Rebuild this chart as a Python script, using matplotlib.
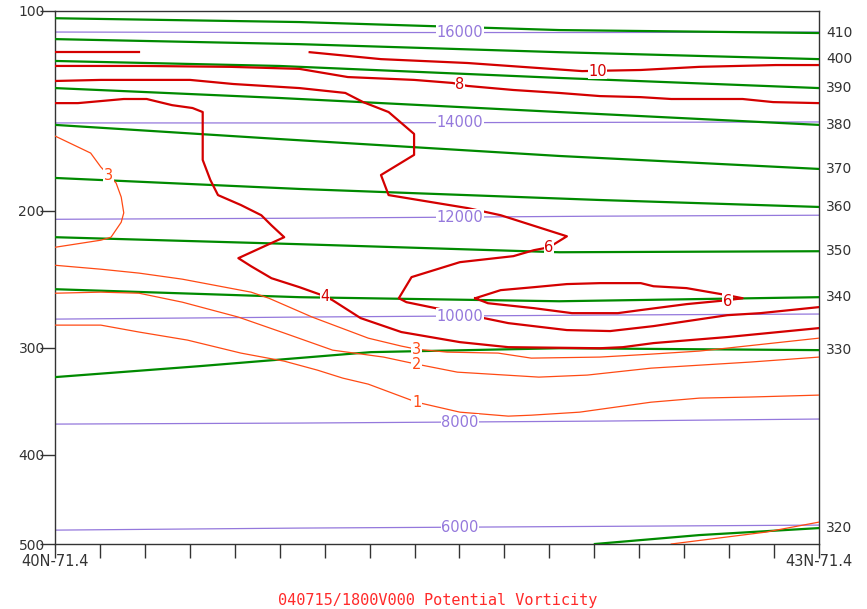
"""
Cross-section 40N-71.4 -> 43N-71.4: potential vorticity (PVU), isentropes (K)
and geopotential height (m) on a p**kappa (stuve) pressure axis.
"""

import numpy as np
import matplotlib.pyplot as plt

KAPPA = 0.2857

# ---- pressure axis / x axis
p_ticks = [100, 200, 300, 400, 500]
x_ticks_n = 18
x_label_left = "40N-71.4"
x_label_right = "43N-71.4"
title = "040715/1800V000 Potential Vorticity"

# ---- isentropes (theta, K): latitude and pressure (hPa) along each line
th410_lat = [40.00, 40.96, 41.98, 43.00]
th410_p = [102.8, 104.3, 107.5, 108.7]
th400_lat = [40.00, 40.96, 41.98, 43.00]
th400_p = [111.2, 113.3, 116.7, 119.7]
th390_lat = [40.00, 40.88, 41.98, 43.00]
th390_p = [120.5, 122.7, 128.1, 132.8]
th380_lat = [40.00, 40.88, 41.98, 43.00]
th380_p = [132.8, 137.5, 144.4, 150.9]
th370_lat = [40.00, 40.88, 41.98, 43.00]
th370_p = [150.9, 158.3, 167.5, 174.8]
th360_lat = [40.00, 40.96, 42.14, 43.00]
th360_p = [180.0, 186.5, 193.2, 197.5]
th350_lat = [40.00, 40.96, 41.98, 43.00]
th350_p = [217.0, 221.7, 227.2, 226.5]
th340_lat = [40.00, 40.96, 41.98, 43.00]
th340_p = [253.7, 259.7, 262.8, 259.7]
th330_lat = [40.00, 40.57, 41.24, 41.98, 43.00]
th330_p = [325.5, 315.8, 303.8, 300.5, 302.1]
th320_lat = [42.12, 42.53, 43.00]
th320_p = [500.0, 489.3, 481.0]

# ---- geopotential height (m)
hgt_lat = [40.00, 40.96, 42.14, 43.00]
hgt16000_p = [108.3, 108.5, 108.5, 108.3]
hgt14000_p = [149.9, 149.9, 149.6, 149.4]
hgt12000_p = [205.3, 204.6, 203.3, 202.7]
hgt10000_p = [276.7, 275.1, 273.5, 272.7]
hgt8000_p = [369.3, 368.3, 366.4, 364.4]
hgt6000_p = [483.4, 481.0, 479.0, 477.5]
hgt_label_lat = 41.59

# ---- potential vorticity (PVU)
pv10a_lat = [40.00, 40.33]
pv10a_p = [116.7, 116.7]
pv10_lat = [41.00, 41.28, 41.62, 42.07, 42.30, 42.53, 42.83, 43.00]
pv10_p = [116.7, 119.7, 121.4, 125.0, 124.5, 123.1, 122.3, 122.3]

pv8_lat = [40.00, 40.35, 40.69, 40.96, 41.15, 41.41, 41.56, 41.62, 41.80,
           41.98, 42.14, 42.30, 42.42, 42.70, 42.82, 43.00]
pv8_p = [122.7, 122.7, 123.1, 124.0, 127.7, 129.0, 130.4, 131.8, 133.7,
         135.1, 136.6, 137.1, 138.0, 138.0, 139.5, 140.0]

pv6_lat = [40.00, 40.18, 40.53, 40.70, 40.96, 41.14, 41.21, 41.31, 41.41,
           41.41, 41.28, 41.31, 41.62, 41.75, 42.01, 41.94, 41.88, 41.80,
           41.59, 41.40, 41.35, 41.38, 41.59, 41.78, 42.01, 42.18, 42.35,
           42.64, 42.77, 43.00]
pv6_p = [129.5, 129.0, 129.0, 130.9, 132.8, 135.1, 139.5, 144.4, 155.6,
         166.9, 178.3, 190.2, 198.2, 202.7, 216.4, 223.8, 225.8, 229.9,
         234.1, 244.8, 260.5, 263.5, 272.0, 279.9, 285.5, 286.3, 282.3,
         273.6, 272.0, 267.3]

pv6b_lat = [41.65, 41.75, 41.88, 42.01, 42.14, 42.30, 42.35, 42.48, 42.64,
            42.70, 42.64, 42.48, 42.30, 42.21, 42.03, 41.88, 41.70, 41.65]
pv6b_p = [260.5, 254.4, 252.2, 249.9, 249.2, 249.2, 251.5, 252.9, 258.2,
          260.5, 262.0, 265.0, 269.6, 272.0, 272.0, 268.1, 264.3, 260.5]

pv4_lat = [40.00, 40.09, 40.18, 40.27, 40.36, 40.46, 40.54, 40.58, 40.58,
           40.58, 40.61, 40.64, 40.73, 40.81, 40.85, 40.90, 40.72, 40.77,
           40.85, 40.96, 41.06, 41.09, 41.20, 41.36, 41.59, 41.78, 42.14,
           42.23, 42.35, 42.64, 43.00]
pv4_p = [140.0, 140.0, 139.0, 138.0, 138.0, 141.0, 142.4, 144.4, 155.1,
         169.7, 181.2, 190.2, 196.3, 202.7, 209.2, 217.0, 231.3, 237.0,
         245.6, 252.2, 259.0, 262.0, 275.9, 287.1, 295.4, 299.6, 300.5,
         299.6, 296.2, 291.2, 283.9]

pv3a_lat = [40.00, 40.14, 40.18, 40.21, 40.24, 40.26, 40.27, 40.26, 40.22,
            40.18, 40.00]
pv3a_p = [156.7, 165.9, 173.7, 178.3, 183.0, 191.4, 201.2, 207.2, 217.0,
          219.0, 223.8]

pv3_lat = [40.00, 40.18, 40.33, 40.50, 40.77, 40.84, 41.01, 41.23, 41.36,
           41.42, 41.54, 41.74, 41.87, 42.14, 42.34, 42.53, 42.60, 43.00]
pv3_p = [236.3, 239.1, 241.9, 246.3, 255.9, 260.5, 275.1, 292.1, 298.7,
         301.3, 303.8, 304.6, 308.9, 308.0, 305.5, 302.9, 301.3, 292.1]

pv2_lat = [40.00, 40.18, 40.33, 40.50, 40.72, 40.90, 41.09, 41.29, 41.42,
           41.58, 41.90, 42.09, 42.34, 42.53, 42.73, 43.00]
pv2_p = [256.7, 255.9, 256.7, 263.5, 275.1, 287.9, 302.1, 308.0, 314.1,
         321.1, 325.5, 323.7, 317.6, 315.0, 312.3, 308.0]

pv1_lat = [40.00, 40.18, 40.33, 40.52, 40.73, 40.90, 41.03, 41.13, 41.23,
           41.42, 41.59, 41.78, 41.87, 42.06, 42.34, 42.53, 42.73, 43.00]
pv1_p = [281.5, 281.5, 287.1, 293.7, 304.6, 311.5, 319.3, 326.4, 331.8,
         348.4, 357.8, 361.6, 360.7, 357.8, 348.4, 344.6, 343.6, 341.8]

pv1b_lat = [42.42, 42.79, 43.00]
pv1b_p = [500.0, 485.8, 474.0]

GREEN = "#008a00"
PURPLE = "#9478dc"
RED = "#d40000"
ORANGE = "#ff4a14"
AXIS = "#333333"


def fwd(p):
    return np.power(np.clip(p, 1e-6, None), KAPPA)


def inv(t):
    return np.power(np.clip(t, 1e-6, None), 1.0 / KAPPA)


def line_label(ax, lat, p, text, color, size=9.5):
    ax.text(lat, p, text, color=color, fontsize=size, ha="center", va="center",
            bbox=dict(fc="white", ec="none", pad=0.4), zorder=6)


fig = plt.figure(figsize=(8.67, 6.09), dpi=100)
ax = fig.add_axes([55 / 867, 65 / 609, 764 / 867, 533 / 609])
ax.set_yscale("function", functions=(fwd, inv))
ax.set_xlim(40, 43)
ax.set_ylim(500, 100)

# heights
for p_vals, lev in [(hgt16000_p, 16000), (hgt14000_p, 14000), (hgt12000_p, 12000),
                    (hgt10000_p, 10000), (hgt8000_p, 8000), (hgt6000_p, 6000)]:
    ax.plot(hgt_lat, p_vals, color=PURPLE, lw=0.9, zorder=2)
    line_label(ax, hgt_label_lat, np.interp(hgt_label_lat, hgt_lat, p_vals),
               str(lev), PURPLE, size=10.5)

# isentropes
theta_lines = [(410, th410_lat, th410_p), (400, th400_lat, th400_p),
               (390, th390_lat, th390_p), (380, th380_lat, th380_p),
               (370, th370_lat, th370_p), (360, th360_lat, th360_p),
               (350, th350_lat, th350_p), (340, th340_lat, th340_p),
               (330, th330_lat, th330_p), (320, th320_lat, th320_p)]
for theta, lat, p_vals in theta_lines:
    ax.plot(lat, p_vals, color=GREEN, lw=1.6, zorder=3, clip_on=True)
    ax.annotate(str(theta), (lat[-1], p_vals[-1]), xytext=(5, 0),
                textcoords="offset points", ha="left", va="center",
                fontsize=10, color=AXIS, annotation_clip=False)

# potential vorticity
for lat, p_vals in [(pv10a_lat, pv10a_p), (pv10_lat, pv10_p), (pv8_lat, pv8_p),
                    (pv6_lat, pv6_p), (pv6b_lat, pv6b_p), (pv4_lat, pv4_p)]:
    ax.plot(lat, p_vals, color=RED, lw=1.6, zorder=4)
for lat, p_vals in [(pv3a_lat, pv3a_p), (pv3_lat, pv3_p), (pv2_lat, pv2_p),
                    (pv1_lat, pv1_p), (pv1b_lat, pv1b_p)]:
    ax.plot(lat, p_vals, color=ORANGE, lw=0.9, zorder=4)

line_label(ax, 42.13, 125.0, "10", RED, size=10.5)
line_label(ax, 41.59, 131.3, "8", RED, size=10.5)
line_label(ax, 41.94, 223.8, "6", RED, size=10.5)
line_label(ax, 42.64, 262.8, "6", RED, size=10.5)
line_label(ax, 41.06, 259.0, "4", RED, size=10.5)
line_label(ax, 40.21, 178.3, "3", ORANGE, size=10.5)
line_label(ax, 41.42, 301.3, "3", ORANGE, size=10.5)
line_label(ax, 41.42, 314.1, "2", ORANGE, size=10.5)
line_label(ax, 41.42, 348.4, "1", ORANGE, size=10.5)

# axes cosmetics
ax.set_yticks(p_ticks)
ax.set_yticklabels([str(v) for v in p_ticks])
ax.yaxis.set_minor_locator(plt.NullLocator())
ax.tick_params(axis="y", direction="out", length=11, width=1, pad=-3.6,
               labelsize=10, colors=AXIS, right=False)

xt = np.linspace(40, 43, x_ticks_n)
ax.set_xticks(xt)
ax.set_xticklabels([x_label_left] + [""] * (x_ticks_n - 2) + [x_label_right])
ax.tick_params(axis="x", direction="out", length=10, width=1, pad=-3,
               labelsize=10.5, colors=AXIS)

for side in ["left", "right", "top", "bottom"]:
    ax.spines[side].set_color(AXIS)
    ax.spines[side].set_linewidth(1)

fig.text(438 / 867, 1 - 600 / 609, title, color="#ff2a2a", fontsize=11,
         family="DejaVu Sans Mono", ha="center", va="center")

plt.savefig("out.png", dpi=100)
plt.close()
